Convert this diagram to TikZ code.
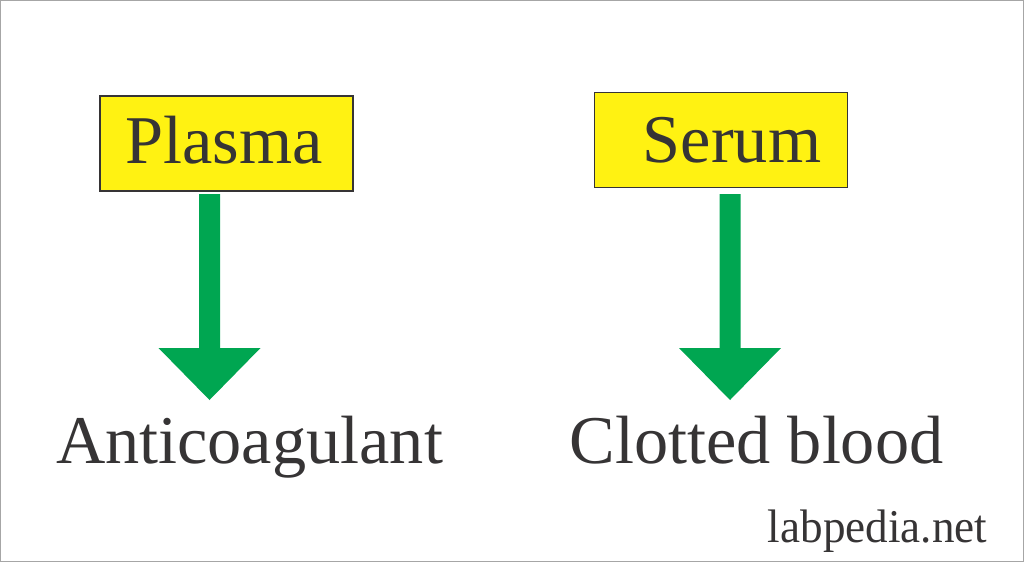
\documentclass[tikz,border=0pt]{standalone}
\usepackage{fontspec}
\setmainfont{Liberation Serif}
\definecolor{boxyellow}{RGB}{255,242,18}
\definecolor{arrowgreen}{RGB}{0,166,81}
\definecolor{textgrey}{RGB}{54,52,53}
\tikzstyle{block} = [rectangle, draw=textgrey, line width=1.5pt, fill=boxyellow, inner sep=0pt, minimum width=253pt, minimum height=95pt]
\tikzstyle{caption} = [text=textgrey, inner sep=0pt, anchor=base, font=\fontsize{68.3}{68.3}\selectfont]
\tikzstyle{flow} = [fill=arrowgreen]
\newcommand{\flowarrow}[2]{%
  \path[flow] ([xshift=-10.5pt]#1) -- ([xshift=-10.5pt]#2) -- ([xshift=-51pt]#2) -- ([yshift=-52pt]#2) -- ([xshift=51pt]#2) -- ([xshift=10.5pt]#2) -- ([xshift=10.5pt]#1) -- cycle;}
\begin{document}
\begin{tikzpicture}[x=1pt,y=-1pt]
  \useasboundingbox (0,0) rectangle (1024,562);
  \draw[black!35, line width=1.5pt] (0.5,0.5) rectangle (1023.5,561.5);
  \node[block] (plasma) at (226.5,143.5) {};
  \node[block] (serum) at (721,140) {};
  \node[caption] (plasmatext) at (224,163) {Plasma};
  \node[caption] (serumtext) at (732,162) {Serum};
  \coordinate (plasmatail) at (209.5,194);
  \coordinate (plasmahead) at (209.5,348);
  \coordinate (serumtail) at (730,194);
  \coordinate (serumhead) at (730,348);
  \flowarrow{plasmatail}{plasmahead}
  \flowarrow{serumtail}{serumhead}
  \node[caption] (anticoag) at (249.5,463) {Anticoagulant};
  \node[caption] (clotted) at (756.5,463) {Clotted blood};
  \node[caption, font=\fontsize{47}{47}\selectfont, xscale=0.96, transform shape] (site) at (877.5,542) {labpedia.net};
\end{tikzpicture}
\end{document}
